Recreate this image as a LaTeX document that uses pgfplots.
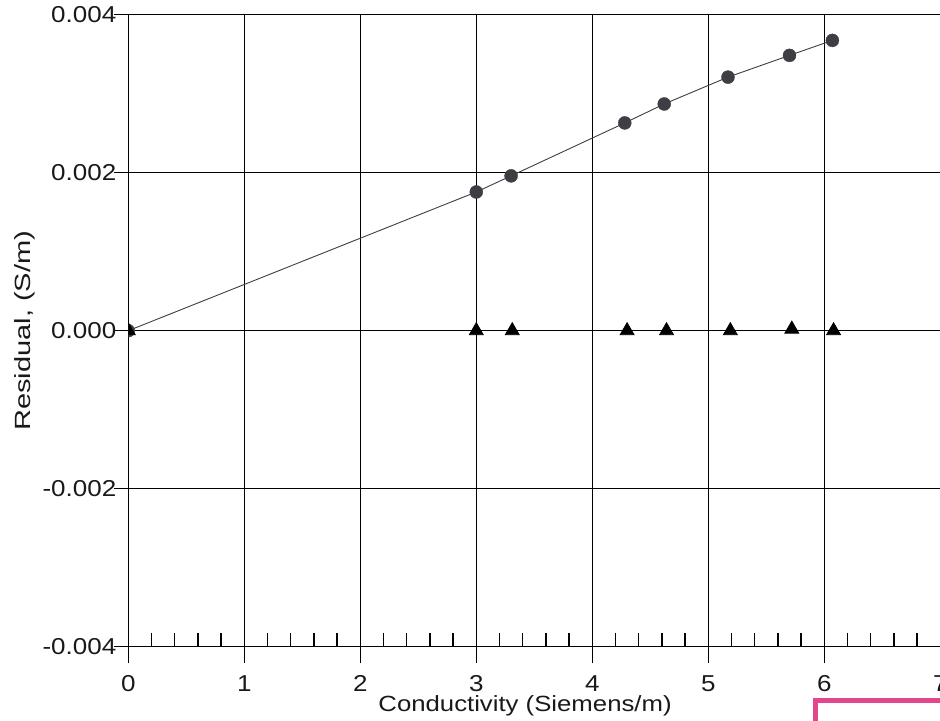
\documentclass[border=0pt]{standalone}
\usepackage{pgfplots}
\pgfplotsset{compat=1.18}
\usepackage{fontspec}
\setmainfont{Liberation Sans}
\usepackage{graphicx}
\newcommand\tl[1]{\scalebox{1.13}[1]{#1}}
\definecolor{dotgray}{RGB}{62,62,68}
\definecolor{stamp}{RGB}{226,70,140}

\pgfplotstableread{
x y
0 0
3.00 0.001756
3.30 0.00196
4.28 0.00263
4.62 0.00287
5.17 0.00321
5.70 0.003485
6.07 0.003675
}\circles
\pgfplotstableread{
x y
0 0
3.00 0.0
3.31 0.0
4.30 0.0
4.64 0.0
5.19 0.0
5.72 0.00002
6.08 0.0
}\triangles

\begin{document}
\begin{tikzpicture}
\begin{axis}[
  at={(0pt,0pt)}, anchor=south west,
  scale only axis, width=406pt, height=316pt,
  xmin=0, xmax=7, ymin=-0.004, ymax=0.004,
  axis lines=left, axis line style={-, black, line width=0.65pt},
  xtick={0,1,2,3,4,5,6,7},
  xticklabels={\tl{0},\tl{1},\tl{2},\tl{3},\tl{4},\tl{5},\tl{6},\tl{7}},
  ytick={-0.004,-0.002,0,0.002,0.004},
  yticklabels={\tl{-0.004},\tl{-0.002},\tl{0.000},\tl{0.002},\tl{0.004}},
  scaled y ticks=false,
  minor x tick num=4,
  grid=major,
  major grid style={black, line width=0.65pt},
  tick align=inside,
  major tick length=8pt,
  minor tick length=7pt,
  every major x tick/.style={yshift=-8pt},
  every major y tick/.style={xshift=-7pt},
  tick style={black, line width=0.65pt},
  ticklabel style={font=\fontsize{11.5}{13}\selectfont, text=black!90},
  xticklabel style={yshift=-11pt},
  yticklabel style={xshift=-2.5pt},
  xlabel={\scalebox{1.17}[1]{Conductivity (Siemens/m)}},
  ylabel={\scalebox{1.32}[1]{Residual, (S/m)}},
  label style={font=\fontsize{11}{13}\selectfont, text=black!90},
  xlabel style={at={(axis description cs:0.4886,-0.1033)}, anchor=base},
  ylabel style={at={(axis description cs:-0.127,0.5)}, anchor=center},
  clip marker paths=true,
]
\addplot[color=dotgray, line width=0.45pt, mark=*, mark size=3.25pt,
  mark options={fill=dotgray, draw=dotgray, line width=0.2pt}] table[x=x,y=y] {\circles};
\addplot[only marks, mark=triangle*, mark size=4pt,
  mark options={fill=black, draw=black}] table[x=x,y=y] {\triangles};
\end{axis}
\draw[stamp, line width=2.5pt] (343.35pt,-26.65pt) rectangle (430pt,-70pt);
\pgfresetboundingbox
\path[use as bounding box] (-64.15pt,-37.15pt) rectangle (405.85pt,323.35pt);
\end{tikzpicture}
\end{document}
